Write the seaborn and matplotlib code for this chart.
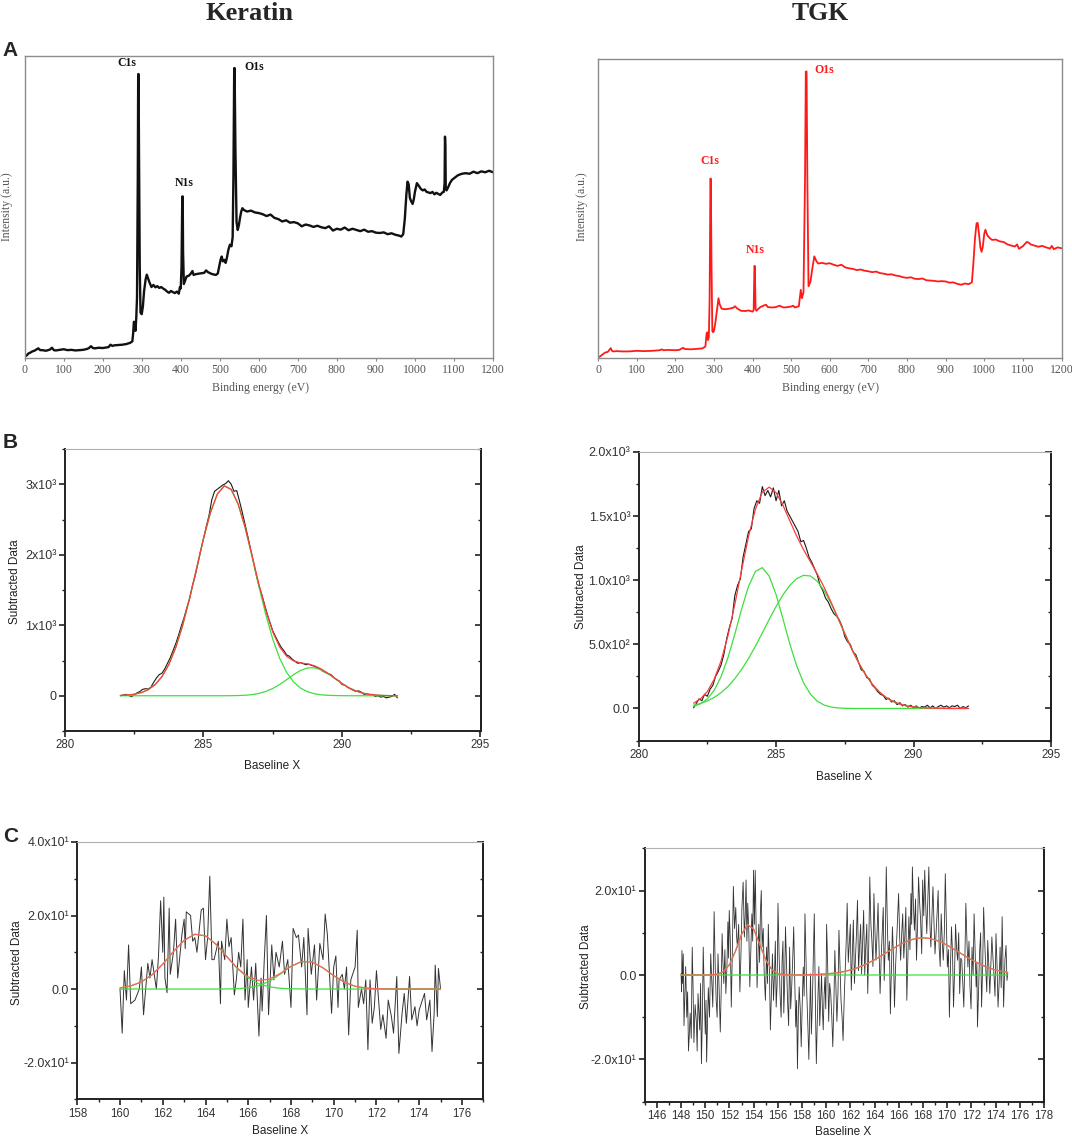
import matplotlib
matplotlib.use('Agg')
import matplotlib.pyplot as plt
import seaborn as sns
from matplotlib.ticker import MultipleLocator

sns.set_theme(style='ticks')
plt.rcParams['font.family'] = ['Liberation Sans', 'DejaVu Sans']

# ---------------- A: survey spectra (relative intensity, % of frame) ----------------
ker_survey_x = [0, 5, 10, 15, 20, 25, 30, 35, 40, 45,
                50, 55, 60, 65, 70, 75, 80, 90, 100, 110,
                120, 130, 140, 150, 160, 165, 170, 175, 180, 190,
                200, 210, 215, 220, 225, 230, 240, 250, 260, 270,
                276, 278, 280, 282, 284, 286, 288, 290, 291, 292,
                293, 295, 297, 300, 303, 306, 310, 313, 316, 320,
                325, 330, 335, 340, 345, 350, 355, 360, 365, 370,
                375, 380, 385, 390, 395, 398, 400, 402, 404, 405,
                406, 408, 410, 415, 420, 425, 430, 433, 440, 450,
                460, 465, 470, 480, 490, 495, 498, 502, 505, 508,
                512, 515, 518, 522, 526, 530, 533, 535, 537, 538,
                540, 543, 546, 549, 552, 555, 558, 562, 570, 580,
                590, 600, 610, 620, 630, 640, 650, 660, 670, 680,
                690, 700, 710, 720, 730, 740, 750, 760, 770, 780,
                790, 800, 810, 820, 830, 840, 850, 860, 870, 880,
                890, 900, 910, 920, 930, 940, 950, 960, 965, 970,
                974, 978, 981, 984, 987, 990, 994, 997, 1000, 1005,
                1010, 1015, 1020, 1025, 1030, 1040, 1045, 1050, 1055, 1060,
                1065, 1070, 1074, 1076, 1077, 1078, 1079, 1081, 1085, 1090,
                1095, 1100, 1110, 1120, 1130, 1140, 1150, 1160, 1170, 1180,
                1190, 1200]
ker_survey_y = [0.5, 0.8, 1.5, 1.8, 2.2, 2.4, 2.8, 3.2, 2.6, 2.6,
                2.5, 2.4, 2.6, 2.8, 3.4, 2.6, 2.5, 2.7, 2.9, 2.6,
                2.7, 2.5, 2.6, 2.7, 3.0, 3.3, 3.9, 3.3, 3.2, 3.4,
                3.3, 3.5, 3.6, 4.4, 4.0, 4.2, 4.3, 4.4, 4.6, 5.0,
                5.5, 8.0, 12.0, 11.5, 9.0, 13.0, 20.0, 60.0, 94.0, 94.0,
                70.0, 30.0, 15.0, 14.5, 17.0, 22.0, 26.0, 27.6, 26.5, 25.0,
                23.5, 24.2, 23.4, 23.8, 23.2, 23.5, 23.0, 22.6, 22.0, 21.6,
                22.2, 21.8, 21.5, 22.0, 21.3, 23.5, 23.0, 30.0, 53.5, 53.5,
                35.0, 24.5, 25.2, 27.0, 27.2, 27.8, 28.8, 27.5, 27.8, 28.0,
                28.2, 29.0, 28.4, 27.8, 27.5, 28.0, 30.0, 32.5, 33.6, 32.0,
                32.5, 31.5, 33.0, 35.8, 37.5, 37.0, 40.0, 60.0, 96.0, 96.0,
                70.0, 45.0, 42.4, 44.0, 46.5, 48.5, 49.6, 49.0, 48.5, 48.8,
                48.2, 48.0, 47.6, 47.0, 47.5, 46.4, 46.0, 45.2, 45.6, 44.8,
                45.0, 44.6, 43.6, 44.2, 43.9, 43.4, 43.8, 43.3, 43.0, 43.6,
                42.2, 42.8, 42.5, 43.2, 42.3, 42.8, 42.4, 42.0, 42.5, 41.8,
                42.0, 41.5, 41.4, 41.6, 41.0, 41.3, 40.8, 40.5, 40.2, 41.0,
                46.0, 54.0, 58.4, 57.5, 53.0, 52.0, 51.0, 52.5, 55.0, 57.9,
                57.0, 56.0, 55.5, 55.8, 55.0, 54.6, 55.0, 54.2, 54.7, 54.3,
                54.0, 54.8, 55.0, 58.0, 73.3, 70.0, 56.0, 55.5, 56.5, 58.0,
                59.0, 59.5, 60.5, 61.0, 61.2, 61.0, 61.7, 61.2, 61.8, 61.5,
                62.0, 61.5]

tgk_survey_x = [0, 5, 10, 15, 20, 25, 30, 33, 36, 40,
                50, 60, 80, 100, 120, 140, 160, 165, 170, 180,
                200, 210, 220, 225, 240, 260, 270, 278, 281, 283,
                285, 287, 289, 291, 292, 294, 296, 298, 300, 303,
                306, 309, 312, 315, 320, 330, 340, 350, 355, 360,
                370, 380, 390, 400, 403, 405, 406, 408, 410, 420,
                430, 435, 440, 450, 460, 470, 480, 490, 500, 505,
                510, 520, 525, 528, 532, 536, 538, 540, 542, 545,
                550, 555, 560, 565, 570, 580, 590, 600, 610, 620,
                630, 640, 650, 660, 670, 680, 690, 700, 710, 720,
                730, 740, 750, 760, 770, 780, 790, 800, 810, 820,
                830, 840, 850, 860, 870, 880, 890, 900, 910, 920,
                930, 940, 950, 960, 968, 972, 976, 980, 983, 986,
                990, 993, 996, 1000, 1003, 1008, 1015, 1020, 1030, 1040,
                1050, 1060, 1070, 1080, 1085, 1090, 1095, 1100, 1110, 1115,
                1120, 1130, 1140, 1150, 1160, 1170, 1175, 1180, 1190, 1200]
tgk_survey_y = [0.3, 0.5, 1.0, 1.5, 1.9, 2.0, 2.8, 3.3, 2.4, 2.2,
                2.3, 2.2, 2.2, 2.4, 2.3, 2.4, 2.6, 2.9, 2.6, 2.7,
                2.6, 2.7, 3.4, 3.0, 2.9, 3.1, 3.2, 3.8, 8.0, 8.6,
                6.0, 7.0, 20.0, 60.0, 60.0, 30.0, 9.0, 8.6, 9.0, 11.0,
                14.0, 17.0, 20.0, 18.0, 16.5, 16.3, 16.5, 16.8, 17.3, 16.6,
                15.8, 15.7, 15.9, 15.5, 16.0, 30.8, 30.8, 16.5, 15.8, 17.0,
                17.6, 17.8, 17.0, 16.9, 17.0, 17.5, 16.9, 17.0, 17.2, 17.5,
                16.9, 17.3, 22.8, 20.0, 22.0, 60.0, 95.8, 95.8, 60.0, 24.0,
                25.5, 30.0, 34.0, 32.5, 31.6, 31.8, 31.5, 31.7, 31.2, 30.8,
                31.2, 30.3, 30.0, 29.8, 29.4, 29.6, 29.2, 29.0, 28.7, 28.9,
                28.4, 28.2, 27.9, 28.0, 27.6, 27.4, 27.0, 26.8, 27.0, 26.5,
                26.4, 26.6, 26.0, 25.9, 25.8, 25.6, 25.7, 25.6, 25.2, 25.3,
                24.8, 24.5, 24.9, 24.7, 25.3, 32.0, 40.0, 45.0, 45.2, 42.0,
                37.0, 35.5, 37.0, 41.5, 42.9, 41.0, 40.0, 39.5, 39.6, 39.0,
                38.8, 38.0, 37.6, 37.3, 38.0, 36.5, 37.0, 37.4, 38.8, 38.6,
                38.0, 37.6, 37.2, 37.5, 37.0, 36.6, 37.5, 36.4, 37.0, 36.7]

ker_peak_names = ['C1s', 'N1s', 'O1s']
ker_peak_x = [261, 410, 587]
ker_peak_y = [97.6, 57.9, 96.5]
tgk_peak_names = ['O1s', 'C1s', 'N1s']
tgk_peak_x = [585, 289, 406]
tgk_peak_y = [96.3, 66.0, 36.2]
survey_ticks = [0, 100, 200, 300, 400, 500, 600, 700, 800, 900, 1000, 1100, 1200]

# ---------------- B: C1s high resolution ----------------
b_raw_x = [282.0, 282.1, 282.2, 282.3, 282.4, 282.5, 282.6, 282.7, 282.8, 282.9,
           283.0, 283.1, 283.2, 283.3, 283.4, 283.5, 283.6, 283.7, 283.8, 283.9,
           284.0, 284.1, 284.2, 284.3, 284.4, 284.5, 284.6, 284.7, 284.8, 284.9,
           285.0, 285.1, 285.2, 285.3, 285.4, 285.5, 285.6, 285.7, 285.8, 285.9,
           286.0, 286.1, 286.2, 286.3, 286.4, 286.5, 286.6, 286.7, 286.8, 286.9,
           287.0, 287.1, 287.2, 287.3, 287.4, 287.5, 287.6, 287.7, 287.8, 287.9,
           288.0, 288.1, 288.2, 288.3, 288.4, 288.5, 288.6, 288.7, 288.8, 288.9,
           289.0, 289.1, 289.2, 289.3, 289.4, 289.5, 289.6, 289.7, 289.8, 289.9,
           290.0, 290.1, 290.2, 290.3, 290.4, 290.5, 290.6, 290.7, 290.8, 290.9,
           291.0, 291.1, 291.2, 291.3, 291.4, 291.5, 291.6, 291.7, 291.8, 291.9,
           292.0]
b_ker_raw = [0, 10, 20, 5, -15, 15, 40, 60, 90, 100,
             95, 120, 190, 250, 300, 320, 380, 460, 540, 640,
             740, 860, 990, 1110, 1250, 1380, 1560, 1700, 1880, 2060,
             2230, 2400, 2560, 2780, 2900, 2930, 2960, 2990, 3010, 3050,
             3000, 2900, 2910, 2760, 2600, 2430, 2260, 2080, 1900, 1720,
             1560, 1440, 1300, 1160, 1040, 920, 840, 760, 690, 640,
             580, 560, 520, 490, 460, 470, 455, 440, 450, 430,
             420, 400, 380, 350, 330, 310, 300, 260, 230, 210,
             160, 150, 120, 100, 80, 60, 70, 50, 20, 30,
             10, 20, -10, 0, -20, -10, -30, -20, -10, 20,
             -30]
b_tgk_raw = [5, 40, 75, 60, 110, 95, 150, 180, 250, 290,
             340, 420, 540, 630, 700, 880, 960, 1010, 1180, 1280,
             1380, 1400, 1560, 1620, 1600, 1730, 1660, 1700, 1650, 1720,
             1620, 1700, 1580, 1620, 1540, 1500, 1460, 1420, 1380, 1300,
             1310, 1250, 1180, 1140, 1090, 1040, 960, 920, 860, 830,
             780, 740, 720, 690, 640, 560, 520, 500, 440, 420,
             360, 300, 290, 240, 230, 180, 160, 130, 110, 100,
             70, 80, 50, 60, 30, 45, 20, 30, 10, 25,
             5, 20, 0, 15, 10, 25, 5, 20, 0, 15,
             25, 10, 20, 5, 20, 15, 25, 0, 15, 5,
             20]

b_fit_x = [282.0, 282.25, 282.5, 282.75, 283.0, 283.25, 283.5, 283.75, 284.0, 284.25,
           284.5, 284.75, 285.0, 285.25, 285.5, 285.75, 286.0, 286.25, 286.5, 286.75,
           287.0, 287.25, 287.5, 287.75, 288.0, 288.25, 288.5, 288.75, 289.0, 289.25,
           289.5, 289.75, 290.0, 290.25, 290.5, 290.75, 291.0, 291.25, 291.5, 291.75,
           292.0]
b_ker_peak1 = [4, 10, 21, 44, 85, 156, 271, 443, 686, 1002,
               1385, 1807, 2229, 2598, 2861, 2977, 2926, 2718, 2387, 1979,
               1551, 1149, 803, 531, 332, 196, 109, 58, 29, 13,
               6, 3, 1, 0, 0, 0, 0, 0, 0, 0,
               0]
b_ker_peak2 = [0, 0, 0, 0, 0, 0, 0, 0, 0, 0,
               0, 0, 0, 0, 0, 0, 1, 3, 7, 16,
               33, 61, 103, 160, 228, 299, 358, 394, 397, 367,
               312, 243, 173, 113, 68, 37, 19, 9, 4, 1.5,
               0]
b_ker_fit = [4, 10, 21, 44, 85, 156, 271, 443, 686, 1002,
             1385, 1807, 2229, 2598, 2861, 2977, 2927, 2721, 2394, 1995,
             1584, 1210, 906, 691, 560, 495, 467, 452, 426, 380,
             318, 246, 174, 113, 68, 37, 19, 9, 4, 1.5,
             0]
b_tgk_peak1 = [16, 36, 74, 142, 248, 396, 580, 777, 953, 1069,
               1098, 1032, 888, 699, 503, 332, 200, 111, 56, 26,
               11, 4, 1.5, 0, 0, 0, 0, 0, 0, 0,
               0, 0, 0, 0, 0, 0, 0, 0, 0, 0,
               0]
b_tgk_peak2 = [25, 39, 58, 86, 123, 171, 232, 305, 390, 486,
               589, 694, 795, 886, 960, 1012, 1038, 1033, 992, 918,
               818, 703, 582, 465, 357, 265, 189, 130, 86, 55,
               34, 20, 12, 6, 3, 2, 1, 0, 0, 0,
               0]
b_tgk_fit = [41, 75, 132, 228, 371, 567, 812, 1082, 1343, 1555,
             1687, 1726, 1683, 1585, 1463, 1344, 1238, 1144, 1048, 944,
             829, 707, 584, 465, 357, 265, 189, 130, 86, 55,
             34, 20, 12, 6, 3, 2, 1, 0, 0, 0,
             0]

# ---------------- C: S2p high resolution ----------------
c_ker_raw_x = [160.0, 160.1, 160.2, 160.3, 160.4, 160.5, 160.7, 160.9, 161.0, 161.1,
               161.3, 161.4, 161.5, 161.7, 161.8, 161.9, 162.0, 162.05, 162.1, 162.2,
               162.3, 162.35, 162.5, 162.6, 162.7, 162.9, 163.0, 163.05, 163.1, 163.3,
               163.4, 163.5, 163.6, 163.8, 163.9, 164.0, 164.1, 164.2, 164.3, 164.4,
               164.6, 164.7, 164.75, 164.9, 165.0, 165.1, 165.2, 165.35, 165.45, 165.55,
               165.65, 165.75, 165.85, 165.95, 166.0, 166.15, 166.25, 166.35, 166.5, 166.6,
               166.65, 166.75, 166.85, 166.95, 167.1, 167.2, 167.3, 167.45, 167.6, 167.7,
               167.85, 168.0, 168.1, 168.25, 168.35, 168.5, 168.6, 168.75, 168.8, 168.95,
               169.1, 169.2, 169.35, 169.5, 169.6, 169.7, 169.8, 169.9, 170.0, 170.1,
               170.2, 170.25, 170.4, 170.5, 170.6, 170.7, 170.8, 171.0, 171.1, 171.15,
               171.3, 171.4, 171.5, 171.6, 171.7, 171.8, 171.9, 172.0, 172.1, 172.2,
               172.3, 172.45, 172.55, 172.7, 172.8, 172.95, 173.05, 173.2, 173.3, 173.4,
               173.55, 173.65, 173.8, 173.9, 174.0, 174.15, 174.25, 174.35, 174.5, 174.6,
               174.7, 174.75, 174.85, 174.9, 175.0]
c_ker_raw = [0, -12, 5, -3, 12, -4, -3, 0, 6, -7,
             7, 3, 8, 0, 9, 24, 10, 25, 3, -1,
             22, 4, 10, 19, 3, 15, 19, 11, 21, 20,
             13, 14, 10, 21.5, 22, 8, 14, 30.7, 8, 8,
             13, -4, 13, 8, 19, 11.5, 14, -1.6, 3, 10,
             6, 19, -3, 8, -5, 6, -3, 7, -12.8, 3,
             -6, 8, 20, -7, 12, 2.5, 10, 6, 13, 4,
             8, -5, 16.5, 14, 14.7, 6, 14, -7, 16.5, 4,
             12, -3, 12.4, 8, 20.4, 15, 4, -6.6, 6, 9,
             -5, 2.5, 4, 0, 6, -12.5, 2.5, 6, 16, -5,
             0, -4, 2.5, -16.5, 2.5, -9.3, -5, 5, -3, -11,
             -7, -13.4, -3, -7.5, -12, 3.4, -17.5, -6.6, -1.2, -9.3,
             3.4, -8.4, -4.8, -10, -5.7, -3, -1.2, -8.4, -3, -17,
             -6.6, 6.5, -7.5, 5.6, 0]
c_ker_fit_x = [160.0, 160.5, 161.0, 161.5, 162.0, 162.5, 163.0, 163.5, 164.0, 164.5,
               165.0, 165.5, 166.0, 166.5, 167.0, 167.5, 168.0, 168.5, 169.0, 169.5,
               170.0, 170.5, 171.0, 171.5, 172.0, 172.5, 173.0, 173.5, 174.0, 174.5,
               175.0]
c_ker_peak1 = [0.30, 0.83, 1.93, 3.88, 6.77, 10.19, 13.26, 14.9, 14.47, 12.14,
               8.8, 5.52, 2.99, 1.39, 0.56, 0.2, 0.06, 0.02, 0, 0,
               0, 0, 0, 0, 0, 0, 0, 0, 0, 0,
               0]
c_ker_peak2 = [0, 0, 0, 0, 0, 0, 0, 0, 0, 0,
               0.02, 0.09, 0.32, 0.92, 2.15, 4.05, 6.14, 7.47, 7.31, 5.75,
               3.63, 1.85, 0.75, 0.25, 0.07, 0.02, 0, 0, 0, 0,
               0]
c_ker_fit = [0.30, 0.83, 1.93, 3.88, 6.77, 10.19, 13.26, 14.9, 14.47, 12.14,
             8.82, 5.61, 3.31, 2.31, 2.71, 4.25, 6.2, 7.49, 7.31, 5.75,
             3.63, 1.85, 0.75, 0.25, 0.07, 0.02, 0, 0, 0, 0,
             0]

c_tgk_raw_x = [148.0, 148.04, 148.07, 148.12, 148.18, 148.24, 148.30, 148.38, 148.47, 148.54,
               148.61, 148.68, 148.75, 148.84, 148.92, 148.99, 149.06, 149.16, 149.26, 149.33,
               149.40, 149.47, 149.54, 149.61, 149.68, 149.76, 149.83, 149.92, 150.00, 150.06,
               150.11, 150.18, 150.25, 150.35, 150.45, 150.54, 150.62, 150.68, 150.73, 150.82,
               150.90, 150.98, 151.05, 151.15, 151.24, 151.32, 151.39, 151.46, 151.53, 151.62,
               151.70, 151.79, 151.87, 151.93, 151.98, 152.07, 152.15, 152.24, 152.32, 152.42,
               152.52, 152.59, 152.66, 152.76, 152.86, 152.95, 153.03, 153.13, 153.23, 153.30,
               153.37, 153.44, 153.51, 153.60, 153.68, 153.77, 153.85, 153.92, 153.99, 154.06,
               154.13, 154.21, 154.28, 154.35, 154.42, 154.49, 154.56, 154.63, 154.70, 154.79,
               154.87, 154.97, 155.07, 155.14, 155.21, 155.30, 155.38, 155.47, 155.55, 155.64,
               155.72, 155.79, 155.86, 155.94, 156.01, 156.10, 156.18, 156.27, 156.35, 156.42,
               156.49, 156.56, 156.63, 156.72, 156.80, 156.89, 156.97, 157.06, 157.14, 157.23,
               157.31, 157.40, 157.48, 157.55, 157.62, 157.69, 157.76, 157.85, 157.93, 158.02,
               158.10, 158.17, 158.24, 158.32, 158.39, 158.48, 158.56, 158.63, 158.70, 158.77,
               158.84, 158.93, 159.01, 159.10, 159.18, 159.25, 159.32, 159.39, 159.46, 159.54,
               159.61, 159.68, 159.75, 159.82, 159.89, 159.96, 160.03, 160.12, 160.20, 160.28,
               160.37, 160.46, 160.54, 160.63, 160.71, 160.80, 160.88, 160.97, 161.05, 161.14,
               161.22, 161.31, 161.39, 161.48, 161.56, 161.65, 161.73, 161.82, 161.90, 161.99,
               162.07, 162.16, 162.24, 162.33, 162.41, 162.50, 162.58, 162.67, 162.75, 162.84,
               162.92, 163.01, 163.09, 163.18, 163.26, 163.35, 163.43, 163.52, 163.60, 163.69,
               163.77, 163.86, 163.94, 164.03, 164.11, 164.20, 164.28, 164.37, 164.45, 164.54,
               164.62, 164.71, 164.79, 164.88, 164.96, 165.05, 165.13, 165.22, 165.30, 165.39,
               165.47, 165.56, 165.64, 165.73, 165.81, 165.90, 165.98, 166.07, 166.15, 166.24,
               166.32, 166.41, 166.49, 166.58, 166.66, 166.75, 166.83, 166.92, 167.00, 167.06,
               167.12, 167.21, 167.29, 167.38, 167.46, 167.55, 167.63, 167.72, 167.80, 167.89,
               167.97, 168.06, 168.14, 168.23, 168.31, 168.40, 168.48, 168.57, 168.65, 168.74,
               168.82, 168.91, 168.99, 169.08, 169.16, 169.25, 169.33, 169.42, 169.50, 169.59,
               169.67, 169.76, 169.84, 169.93, 170.01, 170.10, 170.18, 170.27, 170.35, 170.44,
               170.52, 170.61, 170.69, 170.78, 170.86, 170.95, 171.03, 171.12, 171.20, 171.29,
               171.37, 171.46, 171.54, 171.63, 171.71, 171.80, 171.88, 171.97, 172.05, 172.14,
               172.22, 172.31, 172.39, 172.45, 172.50, 172.59, 172.67, 172.76, 172.84, 172.93,
               173.01, 173.10, 173.18, 173.27, 173.35, 173.44, 173.52, 173.61, 173.69, 173.78,
               173.86, 173.95, 174.03, 174.12, 174.20, 174.29, 174.37, 174.46, 174.54, 174.60,
               174.66, 174.72, 174.77, 174.86, 174.94, 175.0]
c_tgk_raw = [0.3, -4, 5.8, -2, 5, -12, -6, 2, -10, -4,
             -18, -14, -9, -15, 6.6, -3, -16, -7, -11, -18,
             -4.4, -9, -13, -2, -21, -10, 6.6, -5, -14, -6,
             -20.6, -12, -3, -10, 5, -2, -7.6, 3, 15, 2,
             -6, -10, 5, -4, -13.5, -3, 9.8, 3, -2, 6,
             -4.4, 2, 12.6, 4, 15.3, 8, -7.6, 6, 21, 11,
             16, 9, 6.6, 12, -4, 5, 16, 22, 9, 14,
             22.5, 8, 17, 10, -2.8, 6, 14.5, 8, 24.8, 12,
             24.8, 10, -3, 4, 12, 3, 15.3, 20, 6.6, 11,
             0.3, -6, 6.6, -2, 12, 2, -13, -4, 5, -6,
             0.3, 8, -7.6, -2, 17, 5, -4.4, -10, 3.5, 8,
             -9, -2, 11.4, 2, -6, -12, 6.6, -8, -3, 4,
             11.4, -2, -12.3, -6, -22.2, -10, -2.8, -8, -17, -6,
             1.9, -5, 14.5, 5, -4.4, -12, -20, -10, 0.3, -14,
             -7.6, 4, 14.5, -6, -21, -12, -4.4, 2, -12, -6,
             0.3, -8, -13, -5, -0.5, -8, 12, 2, -11, -2,
             -4.4, -10, -17, -7, 5.8, -3, -11, -4, 10.6, 2,
             -6, -10, -15.5, -6, 0.3, 8, 17, 3, 7.4, 12,
             -3.6, 5, 13, -2, 3.5, 10, 17.7, 1, 6.6, 12,
             0.3, 8, 15.3, 0, 6.6, 12, -4.4, 8, 23.2, 12,
             8.2, 2, 19.3, 10, 3.5, 10, 17, 6, -4.4, 4,
             9.8, 16, -1.3, 8, 25.6, 12, 3.5, 8, -9.2, 2,
             11.4, 4, -7.6, 2, 7.4, 14, 19.3, 9, 3.5, 10,
             14.5, 4, 9, 16, -6, 5, 13.8, 6, 19.3, 12,
             25.6, 16, 10.6, 18, 3.5, 12, 23.2, 17, 13, 5,
             22.5, 14, 24.8, 16, 9.8, 18, 25.6, 12, 6.6, 14,
             20.9, 12, 5, 10, 14.5, 20, 6.6, 2, 14.5, 8,
             3.5, 10, 24, 12, 1.9, 6, -10, 2, 11.4, 5,
             -7.6, 1, 12, 6, 3.5, 10, -4.4, 4, 3.5, -2,
             -7.6, 4, 17, 8, 1.9, 8, -2.8, -8, 6.6, 0,
             14.5, 5, -2.8, 3, -12.3, -4, 5, 10, -7.6, 2,
             16, 8, 1.9, -4, 8.2, 2, -4.4, 3, 9, 4,
             0.3, -5, 9.8, 2, -7.6, -2, 6.6, -3, 13.8, 4,
             -7.6, -2, 3.5, 7, -1.3, 0.3]
c_tgk_fit_x = [148.0, 148.5, 149.0, 149.5, 150.0, 150.5, 151.0, 151.5, 152.0, 152.5,
               153.0, 153.5, 154.0, 154.5, 155.0, 155.5, 156.0, 156.5, 157.0, 157.5,
               158.0, 158.5, 159.0, 159.5, 160.0, 160.5, 161.0, 161.5, 162.0, 162.5,
               163.0, 163.5, 164.0, 164.5, 165.0, 165.5, 166.0, 166.5, 167.0, 167.5,
               168.0, 168.5, 169.0, 169.5, 170.0, 170.5, 171.0, 171.5, 172.0, 172.5,
               173.0, 173.5, 174.0, 174.5, 175.0]
c_tgk_peak1 = [0, 0, 0, 0, 0, 0.03, 0.19, 0.79, 2.47, 5.69,
               9.61, 11.93, 10.87, 7.28, 3.58, 1.29, 0.34, 0.07, 0.01, 0,
               0, 0, 0, 0, 0, 0, 0, 0, 0, 0,
               0, 0, 0, 0, 0, 0, 0, 0, 0, 0,
               0, 0, 0, 0, 0, 0, 0, 0, 0, 0,
               0, 0, 0, 0, 0]
c_tgk_peak2 = [0, 0, 0, 0, 0, 0, 0, 0, 0, 0,
               0, 0, 0, 0, 0, 0, 0, 0.01, 0.01, 0.02,
               0.03, 0.06, 0.1, 0.16, 0.25, 0.39, 0.58, 0.84, 1.19, 1.64,
               2.2, 2.86, 3.62, 4.46, 5.34, 6.22, 7.05, 7.77, 8.32, 8.68,
               8.8, 8.68, 8.32, 7.77, 7.05, 6.22, 5.34, 4.46, 3.62, 2.86,
               2.2, 1.64, 1.19, 0.84, 0.58]
c_tgk_fit = [0, 0, 0, 0, 0, 0.03, 0.19, 0.79, 2.47, 5.69,
             9.61, 11.93, 10.87, 7.28, 3.58, 1.29, 0.34, 0.08, 0.02, 0.02,
             0.03, 0.06, 0.1, 0.16, 0.25, 0.39, 0.58, 0.84, 1.19, 1.64,
             2.2, 2.86, 3.62, 4.46, 5.34, 6.22, 7.05, 7.77, 8.32, 8.68,
             8.8, 8.68, 8.32, 7.77, 7.05, 6.22, 5.34, 4.46, 3.62, 2.86,
             2.2, 1.64, 1.19, 0.84, 0.58]

W, H = 1072, 1139
SERIF = 'Liberation Serif'
RAW, FIT, PEAK = '#1a1a1a', '#ff3b3b', '#3de03d'


def fx(px):
    return px / W


def fy(py):
    return 1 - py / H


def rect(x0, y0, x1, y1):
    return [fx(x0), fy(y1), (x1 - x0) / W, (y1 - y0) / H]


def line(ax, x, y, color, lw):
    sns.lineplot(x=x, y=y, ax=ax, color=color, linewidth=lw, estimator=None, sort=False)


def survey_axes(ax, xs, ys, color, lw, names, px, py):
    line(ax, xs, ys, color, lw)
    ax.set_xlim(0, 1200)
    ax.set_ylim(0, 100)
    ax.set_yticks([])
    ax.set_xticks(survey_ticks)
    ax.set_xticklabels([str(t) for t in survey_ticks], family=SERIF, fontsize=8.5, color='#555555')
    ax.tick_params(axis='x', length=2, width=0.8, color='#888888', pad=2)
    for s in ax.spines.values():
        s.set_color('#8c8c8c')
        s.set_linewidth(1.0)
    for n, x, y in zip(names, px, py):
        ax.text(x, y, n, color=color, family=SERIF, weight='bold', fontsize=8.5,
                ha='center', va='center')
    ax.set_xlabel('')
    ax.set_ylabel('')


def origin_axes(ax, xlim, ylim, xmaj, xmin, ymaj, ymin, ylabels):
    ax.set_xlim(*xlim)
    ax.set_ylim(*ylim)
    ax.set_xticks(xmaj)
    ax.set_xticklabels([str(t) for t in xmaj])
    ax.xaxis.set_minor_locator(MultipleLocator(xmin))
    ax.set_yticks(ymaj)
    ax.set_yticklabels(ylabels)
    ax.yaxis.set_minor_locator(MultipleLocator(ymin))
    ax.tick_params(which='both', direction='out', left=True, bottom=True, right=False, top=False,
                   color='#222222', labelcolor='#333333', pad=2)
    ax.tick_params(axis='x', labelsize=8.3)
    ax.tick_params(axis='y', labelsize=9)
    ax.tick_params(which='major', length=4, width=1.2)
    ax.tick_params(which='minor', length=2.5, width=1.0)
    for s in ['left', 'bottom', 'right']:
        ax.spines[s].set_color('#222222')
        ax.spines[s].set_linewidth(1.4)
    ax.spines['top'].set_color('#b0b0b0')
    ax.spines['top'].set_linewidth(0.8)
    sec = ax.secondary_yaxis('right')
    sec.set_yticks(ymaj)
    sec.yaxis.set_minor_locator(MultipleLocator(ymin))
    sec.tick_params(which='both', direction='in', labelright=False, color='#222222')
    sec.tick_params(which='major', length=4, width=1.2)
    sec.tick_params(which='minor', length=2.5, width=1.0)
    sec.spines['right'].set_color('#222222')
    sec.spines['right'].set_linewidth(1.4)
    ax.set_xlabel('')
    ax.set_ylabel('')


fig = plt.figure(figsize=(W / 100, H / 100), dpi=100)

# ---- row A
axA1 = fig.add_axes(rect(24.6, 56, 493, 358))
survey_axes(axA1, ker_survey_x, ker_survey_y, '#111111', 1.7, ker_peak_names, ker_peak_x, ker_peak_y)
axA2 = fig.add_axes(rect(598, 59, 1061.5, 358))
survey_axes(axA2, tgk_survey_x, tgk_survey_y, '#ff1a1a', 1.3, tgk_peak_names, tgk_peak_x, tgk_peak_y)

# ---- row B
axB1 = fig.add_axes(rect(65, 449, 480.5, 731))
line(axB1, b_raw_x, b_ker_raw, RAW, 0.8)
line(axB1, b_fit_x, b_ker_peak1, PEAK, 0.9)
line(axB1, b_fit_x, b_ker_peak2, PEAK, 0.9)
line(axB1, b_fit_x, b_ker_fit, FIT, 0.9)
origin_axes(axB1, (280, 295), (-500, 3500), [280, 285, 290, 295], 2.5,
            [0, 1000, 2000, 3000], 500, ['0', '1x10³', '2x10³', '3x10³'])

axB2 = fig.add_axes(rect(638.6, 452, 1051, 740.5))
line(axB2, b_raw_x, b_tgk_raw, RAW, 0.8)
line(axB2, b_fit_x, b_tgk_peak1, PEAK, 0.9)
line(axB2, b_fit_x, b_tgk_peak2, PEAK, 0.9)
line(axB2, b_fit_x, b_tgk_fit, FIT, 0.9)
origin_axes(axB2, (280, 295), (-250, 2000), [280, 285, 290, 295], 2.5,
            [0, 500, 1000, 1500, 2000], 250,
            ['0.0', '5.0x10²', '1.0x10³', '1.5x10³', '2.0x10³'])

# ---- row C
axC1 = fig.add_axes(rect(77.3, 842, 483.3, 1099.3))
line(axC1, c_ker_raw_x, c_ker_raw, '#333333', 0.7)
line(axC1, c_ker_fit_x, c_ker_peak1, PEAK, 0.9)
line(axC1, c_ker_fit_x, c_ker_peak2, PEAK, 0.9)
line(axC1, c_ker_fit_x, c_ker_fit, '#ff6060', 0.9)
origin_axes(axC1, (158, 177), (-30, 40), list(range(158, 177, 2)), 1,
            [-20, 0, 20, 40], 10, ['-2.0x10¹', '0.0', '2.0x10¹', '4.0x10¹'])

axC2 = fig.add_axes(rect(644.8, 848.3, 1044, 1101.7))
line(axC2, c_tgk_raw_x, c_tgk_raw, '#333333', 0.6)
line(axC2, c_tgk_fit_x, c_tgk_peak1, PEAK, 0.9)
line(axC2, c_tgk_fit_x, c_tgk_peak2, PEAK, 0.9)
line(axC2, c_tgk_fit_x, c_tgk_fit, '#ff6060', 0.9)
origin_axes(axC2, (145, 178), (-30, 30), list(range(146, 179, 2)), 1,
            [-20, 0, 20], 10, ['-2.0x10¹', '0.0', '2.0x10¹'])

# ---- titles, panel letters and axis labels
fig.text(fx(250), fy(13), 'Keratin', family=SERIF, weight='bold', fontsize=19, ha='center', va='center')
fig.text(fx(820), fy(13), 'TGK', family=SERIF, weight='bold', fontsize=18.5, ha='center', va='center')
for letter, py in [('A', 51), ('B', 443), ('C', 837)]:
    fig.text(fx(10.5), fy(py), letter, weight='bold', fontsize=15, ha='center', va='center')

for cx, cy in [(260, 388), (830, 388)]:
    fig.text(fx(cx), fy(cy), 'Binding energy (eV)', family=SERIF, fontsize=8.5, color='#555555',
             ha='center', va='center')
for cx in [7, 581.5]:
    fig.text(fx(cx), fy(207), 'Intensity (a.u.)', family=SERIF, fontsize=8.5, color='#555555',
             rotation=90, ha='center', va='center')

for cx, cy in [(15.4, 582), (580.5, 587), (16.7, 963), (585.6, 967)]:
    fig.text(fx(cx), fy(cy), 'Subtracted Data', fontsize=8.5, color='#222222', rotation=90,
             ha='center', va='center')
for cx, cy in [(272, 766), (844, 777), (280, 1131), (843, 1132)]:
    fig.text(fx(cx), fy(cy), 'Baseline X', fontsize=8.5, color='#222222', ha='center', va='center')

fig.savefig('out.png', dpi=100)
